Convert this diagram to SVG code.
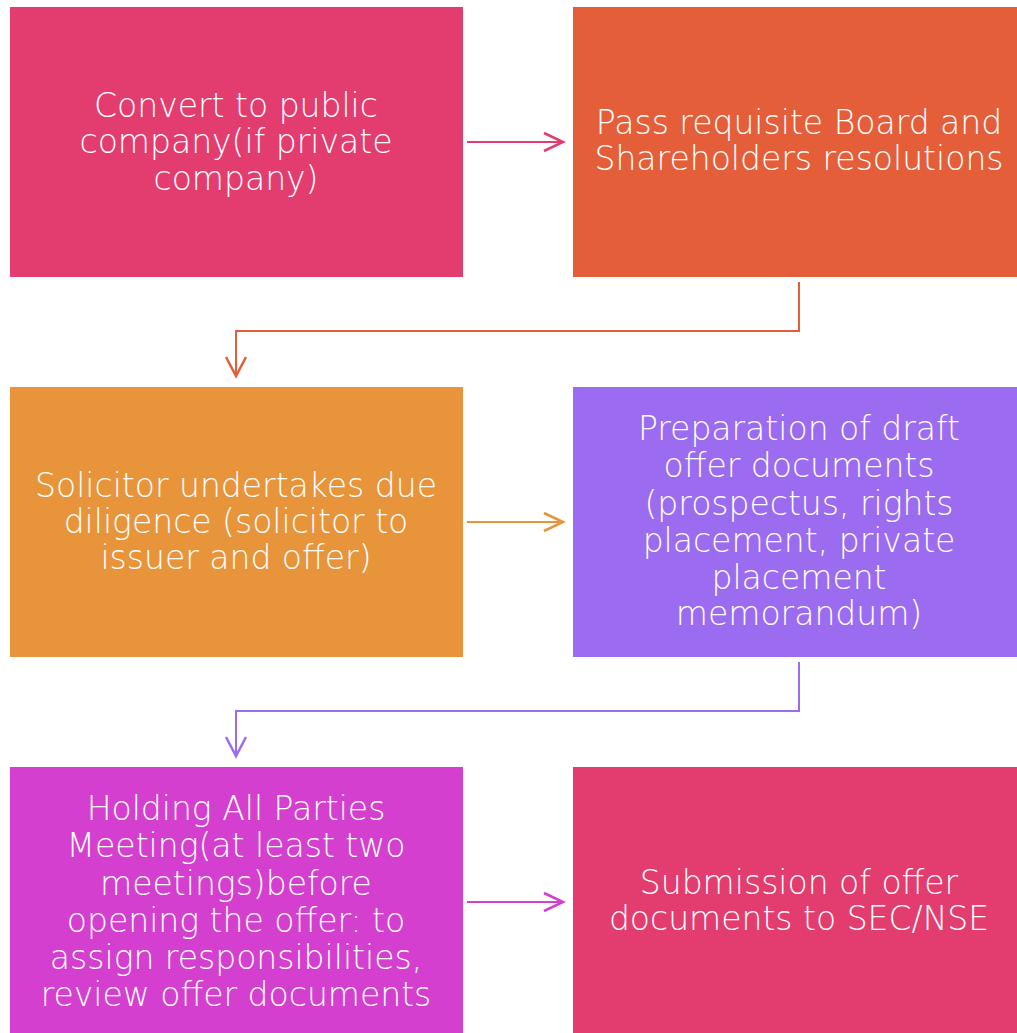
<svg xmlns="http://www.w3.org/2000/svg" width="1017" height="1033" viewBox="0 0 1017 1033">
<defs>
<style>
.box{stroke:none}
.t{font-family:"DejaVu Sans","Liberation Sans",sans-serif;font-size:33px;fill:#ffffff;text-anchor:middle;font-weight:200}
.c{fill:none;stroke-width:2}
.h{fill:none;stroke-width:2.5}
</style>
</defs>
<rect width="1017" height="1033" fill="#ffffff"/>
<g id="connectors">
<path class="c" stroke="#E33C6E" d="M467,142 H563"/><path class="h" stroke="#E33C6E" d="M544,133 L563,142 L544,151"/>
<path class="c" stroke="#E45E3A" d="M799,282 V331 H236 V376"/><path class="h" stroke="#E45E3A" d="M226,357 L236,376 L246,357"/>
<path class="c" stroke="#E8943A" d="M467,522 H563"/><path class="h" stroke="#E8943A" d="M544,513 L563,522 L544,531"/>
<path class="c" stroke="#9B6CF0" d="M799,662 V711 H236 V756"/><path class="h" stroke="#9B6CF0" d="M226,737 L236,756 L246,737"/>
<path class="c" stroke="#D43FCF" d="M467,902 H563"/><path class="h" stroke="#D43FCF" d="M544,893 L563,902 L544,911"/>
</g>
<g id="n1"><rect class="box" x="10" y="7" width="453" height="270" fill="#E33C6E"/>
<text class="t"><tspan x="236" y="117">Convert to public</tspan><tspan x="236" y="153">company(if private</tspan><tspan x="236" y="190">company)</tspan></text></g>
<g id="n2"><rect class="box" x="573" y="7" width="444" height="270" fill="#E45E3A"/>
<text class="t"><tspan x="799" y="134">Pass requisite Board and</tspan><tspan x="799" y="170">Shareholders resolutions</tspan></text></g>
<g id="n3"><rect class="box" x="10" y="387" width="453" height="270" fill="#E8943A"/>
<text class="t"><tspan x="236" y="497">Solicitor undertakes due</tspan><tspan x="236" y="533">diligence (solicitor to</tspan><tspan x="236" y="569">issuer and offer)</tspan></text></g>
<g id="n4"><rect class="box" x="573" y="387" width="444" height="270" fill="#9B6CF0"/>
<text class="t"><tspan x="799" y="440">Preparation of draft</tspan><tspan x="799" y="477">offer documents</tspan><tspan x="799" y="515">(prospectus, rights</tspan><tspan x="799" y="552">placement, private</tspan><tspan x="799" y="589">placement</tspan><tspan x="799" y="625">memorandum)</tspan></text></g>
<g id="n5"><rect class="box" x="10" y="767" width="453" height="266" fill="#D43FCF"/>
<text class="t"><tspan x="236" y="820">Holding All Parties</tspan><tspan x="236" y="857">Meeting(at least two</tspan><tspan x="236" y="895">meetings)before</tspan><tspan x="236" y="932">opening the offer: to</tspan><tspan x="236" y="969">assign responsibilities,</tspan><tspan x="236" y="1006">review offer documents</tspan></text></g>
<g id="n6"><rect class="box" x="573" y="767" width="444" height="266" fill="#E33C6E"/>
<text class="t"><tspan x="799" y="894">Submission of offer</tspan><tspan x="799" y="930">documents to SEC/NSE</tspan></text></g>
</svg>
